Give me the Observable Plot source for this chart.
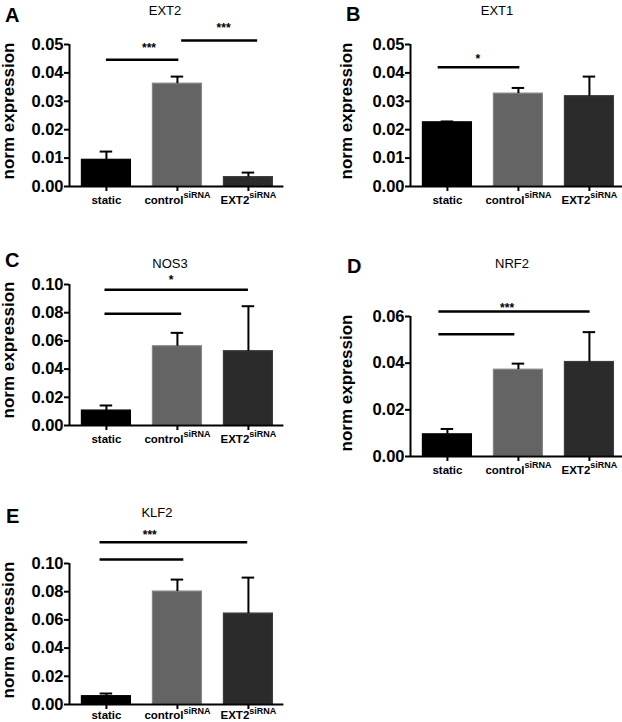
<!DOCTYPE html>
<html><head><meta charset="utf-8">
<script src="https://cdn.jsdelivr.net/npm/d3@7"></script>
<script src="https://cdn.jsdelivr.net/npm/@observablehq/plot@0.6"></script>
<style>
body{margin:0;background:#fff;}
#fig{position:relative;width:622px;height:722px;overflow:hidden;font-family:"Liberation Sans",Arial,sans-serif;background:#fff;}
.panel{position:absolute;}
.panel svg g[aria-label$="tick label"]{font-weight:bold;}
#overlay{position:absolute;left:0;top:0;pointer-events:none;}
</style></head>
<body><div id="fig"></div>
<script>
// ---------------- data ----------------
const categories = ["static", "control", "EXT2"];
const categorySup = ["", "siRNA", "siRNA"];
const genes = ["EXT2", "EXT1", "NOS3", "NRF2", "KLF2"];
const panelLetters = ["A", "B", "C", "D", "E"];

const meanEXT2 = [0.0094, 0.0362, 0.0033];
const semEXT2  = [0.0029, 0.0025, 0.0016];
const meanEXT1 = [0.0226, 0.0327, 0.0318];
const semEXT1  = [0.0003, 0.0020, 0.0069];
const meanNOS3 = [0.0106, 0.0562, 0.0527];
const semNOS3  = [0.0036, 0.0095, 0.0319];
const meanNRF2 = [0.0095, 0.0372, 0.0405];
const semNRF2  = [0.0023, 0.0026, 0.0128];
const meanKLF2 = [0.0059, 0.0801, 0.0645];
const semKLF2  = [0.0019, 0.0085, 0.0255];

const ticksEXT2 = [0, 0.01, 0.02, 0.03, 0.04, 0.05];
const ticksEXT1 = [0, 0.01, 0.02, 0.03, 0.04, 0.05];
const ticksNOS3 = [0, 0.02, 0.04, 0.06, 0.08, 0.10];
const ticksNRF2 = [0, 0.02, 0.04, 0.06];
const ticksKLF2 = [0, 0.02, 0.04, 0.06, 0.08, 0.10];

// significance lines (category units: static=0, control=1, EXT2=2) and their levels
const sigFromEXT2 = [0.0, 1.06],  sigToEXT2 = [1.02, 2.13], sigLevelEXT2 = [0.0446, 0.0514];
const sigFromEXT1 = [-0.13],      sigToEXT1 = [1.02],       sigLevelEXT1 = [0.0420];
const sigFromNOS3 = [-0.02, -0.02], sigToNOS3 = [1.06, 2.0], sigLevelNOS3 = [0.0792, 0.0962];
const sigFromNRF2 = [-0.12, -0.12], sigToNRF2 = [0.95, 2.01], sigLevelNRF2 = [0.0524, 0.0621];
const sigFromKLF2 = [-0.09, -0.09], sigToKLF2 = [1.09, 1.99], sigLevelKLF2 = [0.1028, 0.1151];

// significance stars
const starTextEXT2 = ["***", "***"], starXEXT2 = [0.6, 1.65], starYEXT2 = [0.0496, 0.0567];
const starTextEXT1 = ["*"],          starXEXT1 = [0.43],      starYEXT1 = [0.0458];
const starTextNOS3 = ["*"],          starXNOS3 = [0.91],      starYNOS3 = [0.1052];
const starTextNRF2 = ["***"],        starXNRF2 = [0.84],      starYNRF2 = [0.0647];
const starTextKLF2 = ["***"],        starXKLF2 = [0.61],      starYKLF2 = [0.1222];

const yLabel = "norm expression";

// ---------------- styles / layout ----------------
const barFill = ["#000000", "#646464", "#2b2b2b"];
const barStroke = ["#000000", "#858585", "#3d3d3d"];
const BAR_HALF = 0.345, CAP_HALF = 0.088, X_MIN = -0.52, X_MAX = 2.5, STEP = 71;
const FONT = "'Liberation Sans', Arial, Helvetica, sans-serif";

const layout = [
  {left: 0,   top: 0,   width: 305, height: 230, ml: 69,  mt: 44, mb: 44, pad: 4},
  {left: 310, top: 0,   width: 316, height: 230, ml: 100, mt: 44, mb: 44, pad: 4},
  {left: 0,   top: 230, width: 305, height: 240, ml: 69,  mt: 54, mb: 45, pad: 4},
  {left: 310, top: 230, width: 316, height: 250, ml: 100, mt: 86, mb: 24, pad: 4},
  {left: 0,   top: 470, width: 305, height: 252, ml: 69,  mt: 93, mb: 18, pad: 1.5}
];
const letterPos = [[5, 22], [346, 21], [5, 267], [347, 273], [6, 523]];
const titlePos = [[165, 15], [497, 15], [170, 268], [512, 268], [157, 517]];
const yLabelPos = [[14, 111], [352, 111], [14, 350], [352, 383], [14, 630]];

const series = {
  EXT2: [meanEXT2, semEXT2, ticksEXT2, sigFromEXT2, sigToEXT2, sigLevelEXT2, starTextEXT2, starXEXT2, starYEXT2],
  EXT1: [meanEXT1, semEXT1, ticksEXT1, sigFromEXT1, sigToEXT1, sigLevelEXT1, starTextEXT1, starXEXT1, starYEXT1],
  NOS3: [meanNOS3, semNOS3, ticksNOS3, sigFromNOS3, sigToNOS3, sigLevelNOS3, starTextNOS3, starXNOS3, starYNOS3],
  NRF2: [meanNRF2, semNRF2, ticksNRF2, sigFromNRF2, sigToNRF2, sigLevelNRF2, starTextNRF2, starXNRF2, starYNRF2],
  KLF2: [meanKLF2, semKLF2, ticksKLF2, sigFromKLF2, sigToKLF2, sigLevelKLF2, starTextKLF2, starXKLF2, starYKLF2]
};

const fig = document.getElementById("fig");

genes.forEach((gene, k) => {
  const L = layout[k];
  const [means, sems, ticks, sFrom, sTo, sLevel, stText, stX, stY] = series[gene];
  const rows = categories.map((c, i) => ({i, mean: means[i], top: means[i] + sems[i]}));
  const sigRows = sLevel.map((v, j) => ({x1: sFrom[j], x2: sTo[j], y: v}));
  const starRows = stText.map((t, j) => ({t, x: stX[j], y: stY[j]}));
  const ymax = ticks[ticks.length - 1];
  const frameW = (X_MAX - X_MIN) * STEP;

  const plot = Plot.plot({
    width: L.width, height: L.height,
    marginLeft: L.ml, marginRight: L.width - L.ml - frameW, marginTop: L.mt, marginBottom: L.mb,
    x: {domain: [X_MIN, X_MAX]},
    y: {domain: [0, ymax]},
    style: {fontFamily: FONT, color: "black", background: "transparent", overflow: "visible"},
    marks: [
      Plot.rect(rows, {x1: d => d.i - BAR_HALF, x2: d => d.i + BAR_HALF, y1: 0, y2: "mean",
        fill: d => barFill[d.i], stroke: d => barStroke[d.i], strokeWidth: 1.2}),
      Plot.ruleX(rows, {x: "i", y1: "mean", y2: "top", strokeWidth: 2}),
      Plot.ruleY(rows, {y: "top", x1: d => d.i - CAP_HALF, x2: d => d.i + CAP_HALF, strokeWidth: 2}),
      Plot.ruleY([0], {strokeWidth: 2}),
      Plot.ruleX([X_MIN], {strokeWidth: 2}),
      Plot.axisY({ticks, tickFormat: d3.format(".2f"), tickSize: 5, tickPadding: 1, fontSize: 16.5,
        fontWeight: "bold", strokeWidth: 2, label: null}),
      Plot.axisX({ticks: [0, 1, 2], tickFormat: i => categories[i], tickSize: 5, tickPadding: L.pad,
        fontSize: 11.5, fontWeight: "bold", strokeWidth: 2, label: null}),
      Plot.ruleY(sigRows, {y: "y", x1: "x1", x2: "x2", strokeWidth: 2.5}),
      Plot.text(starRows, {x: "x", y: "y", text: "t", fontSize: 12, fontWeight: "bold", dy: 3})
    ]
  });

  d3.select(plot).selectAll('g[aria-label="x-axis tick label"] text').each(function () {
    const idx = categories.indexOf(this.textContent);
    if (idx >= 0 && categorySup[idx]) {
      d3.select(this).append("tspan").attr("dy", -5.5).attr("font-size", 9).text(categorySup[idx]);
    }
  });

  const div = document.createElement("div");
  div.className = "panel";
  div.style.left = L.left + "px";
  div.style.top = L.top + "px";
  div.style.width = L.width + "px";
  div.style.height = L.height + "px";
  div.appendChild(plot);
  fig.appendChild(div);
});

// overlay texts: panel letters, titles, y labels
const ov = d3.select(fig).append("svg").attr("id", "overlay")
  .attr("width", 622).attr("height", 722).style("font-family", FONT);
genes.forEach((gene, k) => {
  ov.append("text").attr("x", letterPos[k][0]).attr("y", letterPos[k][1])
    .attr("font-size", 20).attr("font-weight", "bold").text(panelLetters[k]);
  ov.append("text").attr("x", titlePos[k][0]).attr("y", titlePos[k][1])
    .attr("font-size", 13).attr("text-anchor", "middle").text(gene);
  ov.append("text").attr("transform", `translate(${yLabelPos[k][0]},${yLabelPos[k][1]}) rotate(-90)`)
    .attr("font-size", 17).attr("font-weight", "bold").attr("text-anchor", "middle").text(yLabel);
});
</script>
</body></html>
